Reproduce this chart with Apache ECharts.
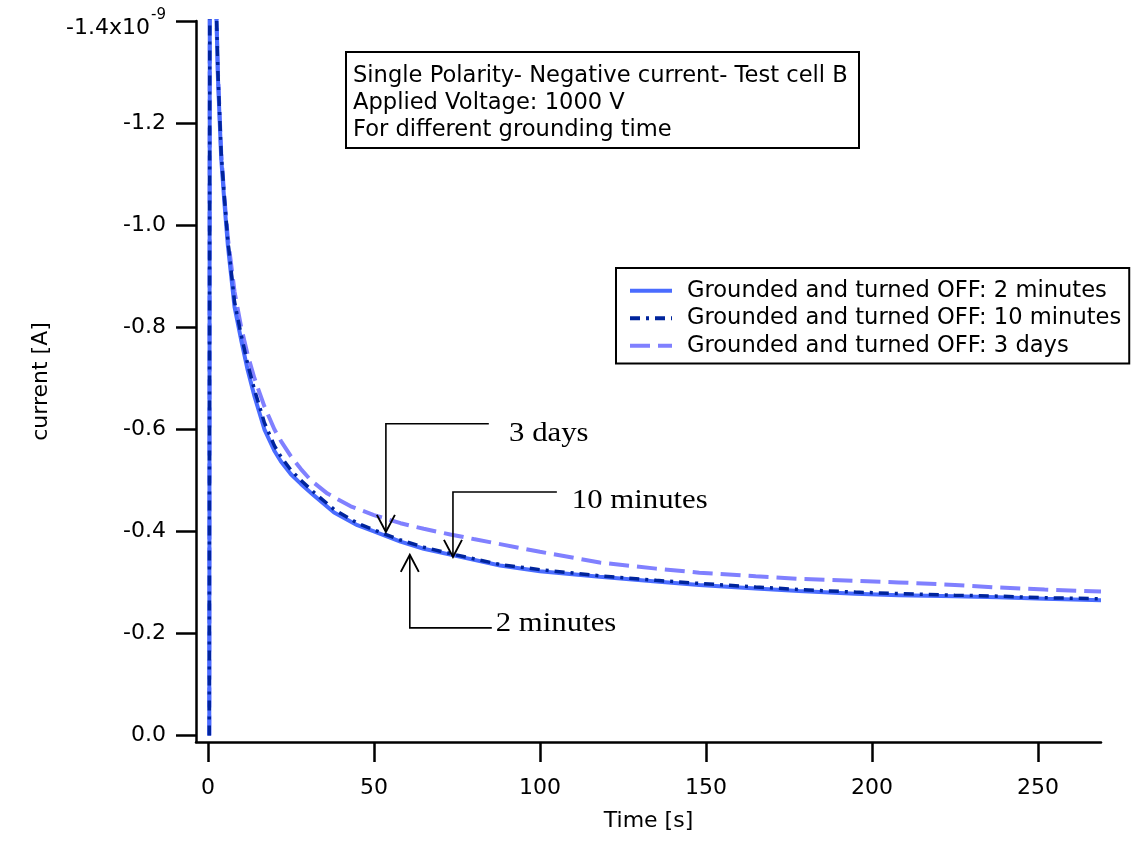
<!DOCTYPE html>
<html>
<head>
<meta charset="utf-8">
<script src="https://cdn.jsdelivr.net/npm/echarts@6/dist/echarts.min.js"></script>
<style>html,body{margin:0;padding:0;background:#fff;}#c{width:1144px;height:841px;}</style>
</head>
<body>
<div id="c"></div>
<script>
// ---- data (current in units of 1e-9 A, time in s) ----
const t2min = [0.4, 0.6, 1.5, 2, 3, 4, 5, 6, 8, 10, 12, 14, 17, 20, 22, 25, 28, 32, 38, 45, 50, 58, 65, 74, 88, 100, 118, 135, 148, 165, 178, 195, 208, 225, 238, 252, 269];
const i2min = [0, -1.9, -1.72, -1.55, -1.29, -1.13, -1.04, -0.96, -0.84, -0.775, -0.715, -0.665, -0.600, -0.558, -0.537, -0.512, -0.493, -0.470, -0.437, -0.412, -0.400, -0.380, -0.366, -0.353, -0.333, -0.322, -0.311, -0.302, -0.295, -0.288, -0.283, -0.278, -0.275, -0.273, -0.271, -0.268, -0.265];
const t10min = [0.4, 0.6, 1.5, 2, 3, 4, 5, 6, 8, 10, 12, 14, 17, 20, 22, 25, 28, 32, 38, 45, 50, 58, 65, 74, 88, 100, 118, 135, 148, 165, 178, 195, 208, 225, 238, 252, 269];
const i10min = [0, -1.9, -1.74, -1.57, -1.30, -1.14, -1.05, -0.97, -0.85, -0.785, -0.727, -0.678, -0.613, -0.568, -0.546, -0.520, -0.500, -0.476, -0.443, -0.416, -0.403, -0.383, -0.369, -0.355, -0.335, -0.325, -0.313, -0.304, -0.298, -0.291, -0.286, -0.281, -0.278, -0.275, -0.273, -0.270, -0.268];
const t3days = [0.4, 0.6, 1.5, 2, 3, 4, 5, 6, 8, 10, 12, 14, 17, 20, 22, 25, 28, 31, 36, 43, 50, 58, 65, 73, 80, 88, 100, 118, 135, 148, 165, 178, 195, 208, 225, 238, 252, 269];
const i3days = [0, -1.9, -1.74, -1.56, -1.30, -1.14, -1.05, -0.975, -0.87, -0.80, -0.745, -0.70, -0.645, -0.60, -0.577, -0.547, -0.522, -0.500, -0.474, -0.449, -0.432, -0.416, -0.405, -0.394, -0.385, -0.375, -0.360, -0.339, -0.327, -0.319, -0.312, -0.307, -0.303, -0.300, -0.295, -0.290, -0.286, -0.282];
const seriesNames = ['Grounded and turned OFF: 2 minutes', 'Grounded and turned OFF: 10 minutes', 'Grounded and turned OFF: 3 days'];
const xTicks = [0, 50, 100, 150, 200, 250];
const yTicks = [-1.4, -1.2, -1.0, -0.8, -0.6, -0.4, -0.2, 0];
const boxLines = ['Single Polarity- Negative current- Test cell B', 'Applied Voltage: 1000 V', 'For different grounding time'];
// annotations: arrow path in data coords (tip first), then label anchor
const annotations = [
  { label: '3 days', path: [[53.6, -0.399], [53.6, -0.611], [84.6, -0.611]], at: [90.7, -0.591] },
  { label: '10 minutes', path: [[73.8, -0.350], [73.8, -0.477], [105.1, -0.477]], at: [109.6, -0.460] },
  { label: '2 minutes', path: [[60.8, -0.354], [60.8, -0.211], [85.5, -0.211]], at: [86.7, -0.219] }
];

const zip = (a, b) => a.map((v, k) => [v, b[k]]);
const FONT = '"DejaVu Sans", "Liberation Sans", Arial, sans-serif';
const FS = 22;

const chart = echarts.init(document.getElementById('c'), null, { renderer: 'canvas' });
chart.setOption({
  backgroundColor: '#fff',
  animation: false,
  title: {
    text: boxLines.join('\n'),
    left: 346, top: 52,
    padding: [11, 11, 4, 7],
    borderColor: '#000', borderWidth: 2,
    textStyle: { fontFamily: FONT, fontSize: FS + 0.6, fontWeight: 'normal', color: '#000', lineHeight: 27 }
  },
  legend: {
    orient: 'vertical',
    left: 616, top: 268,
    padding: [11, 8, 6, 12],
    itemWidth: 42, itemHeight: 4, itemGap: 4,
    borderColor: '#000', borderWidth: 2,
    itemStyle: { opacity: 0 },
    lineStyle: { width: 4 },
    textStyle: { fontFamily: FONT, fontSize: FS + 0.6, color: '#000', lineHeight: 23.5, padding: [0, 0, 0, 10] },
    data: seriesNames
  },
  grid: { left: 196, right: 43, top: 21, bottom: 99, containLabel: false },
  xAxis: {
    type: 'value', min: -3.6, max: 269,
    name: 'Time [s]', nameLocation: 'middle', nameGap: 68,
    nameTextStyle: { fontFamily: FONT, fontSize: FS, color: '#000' },
    axisLine: { show: true, onZero: false, lineStyle: { color: '#000', width: 2.5 } },
    axisTick: { show: true, length: 20, customValues: xTicks, lineStyle: { color: '#000', width: 2.5 } },
    axisLabel: { customValues: xTicks, margin: 35, fontFamily: FONT, fontSize: FS, color: '#000' },
    splitLine: { show: false }
  },
  yAxis: {
    type: 'value', min: -1.4, max: 0.0127, inverse: true,
    name: 'current [A]', nameLocation: 'middle', nameGap: 144,
    nameTextStyle: { fontFamily: FONT, fontSize: FS, color: '#000' },
    axisLine: { show: true, onZero: false, lineStyle: { color: '#000', width: 2.5 } },
    axisTick: { show: true, length: 20, customValues: yTicks, lineStyle: { color: '#000', width: 2.5 } },
    axisLabel: {
      customValues: yTicks, margin: 30, fontFamily: FONT, fontSize: FS, color: '#000',
      formatter: v => Math.abs(v + 1.4) < 1e-6 ? '{m|-1.4x10}{s|-9}' : v.toFixed(1),
      rich: {
        m: { fontFamily: FONT, fontSize: FS, color: '#000', lineHeight: 26, padding: [14, 0, 0, 0] },
        s: { fontFamily: FONT, fontSize: 15, color: '#000', verticalAlign: 'top', lineHeight: 20, padding: [0, 0, 0, 1] }
      }
    },
    splitLine: { show: false }
  },
  series: [
    { name: seriesNames[0], type: 'line', z: 3, data: zip(t2min, i2min), symbol: 'none', showSymbol: false,
      lineStyle: { color: '#4a6cff', width: 4 }, itemStyle: { color: '#4a6cff' } },
    { name: seriesNames[1], type: 'line', z: 4, data: zip(t10min, i10min), symbol: 'none', showSymbol: false,
      lineStyle: { color: '#00249c', width: 3.5, type: [10, 6, 3, 6] }, itemStyle: { color: '#00249c' } },
    { name: seriesNames[2], type: 'line', z: 2, data: zip(t3days, i3days), symbol: 'none', showSymbol: false,
      lineStyle: { color: '#8080ff', width: 4, type: [20, 8] }, itemStyle: { color: '#8080ff' } }
  ]
});

// annotation arrows and labels positioned through the grid's own scales
const toPx = p => chart.convertToPixel({ gridIndex: 0 }, p);
const g = [];
annotations.forEach(a => {
  const pts = a.path.map(toPx);
  g.push({ type: 'polyline', shape: { points: pts }, style: { stroke: '#000', lineWidth: 1.6, fill: null }, z: 100 });
  const tip = pts[0], back = pts[1];
  const dx = back[0] - tip[0], dy = back[1] - tip[1];
  const L = Math.hypot(dx, dy), ux = dx / L, uy = dy / L;
  const px = -uy, py = ux;
  g.push({ type: 'polyline', shape: { points: [
    [tip[0] + ux * 17 + px * 9, tip[1] + uy * 17 + py * 9], tip,
    [tip[0] + ux * 17 - px * 9, tip[1] + uy * 17 - py * 9]] },
    style: { stroke: '#000', lineWidth: 1.9, fill: null }, z: 100 });
  const tp = toPx(a.at);
  g.push({ type: 'text', x: tp[0], y: tp[1], scaleX: 1.14, z: 100,
    style: { text: a.label, fill: '#000', fontFamily: '"Liberation Serif", "Times New Roman", serif', fontSize: 27,
      verticalAlign: 'middle', align: 'left' } });
});
chart.setOption({ graphic: g });
</script>
</body>
</html>
